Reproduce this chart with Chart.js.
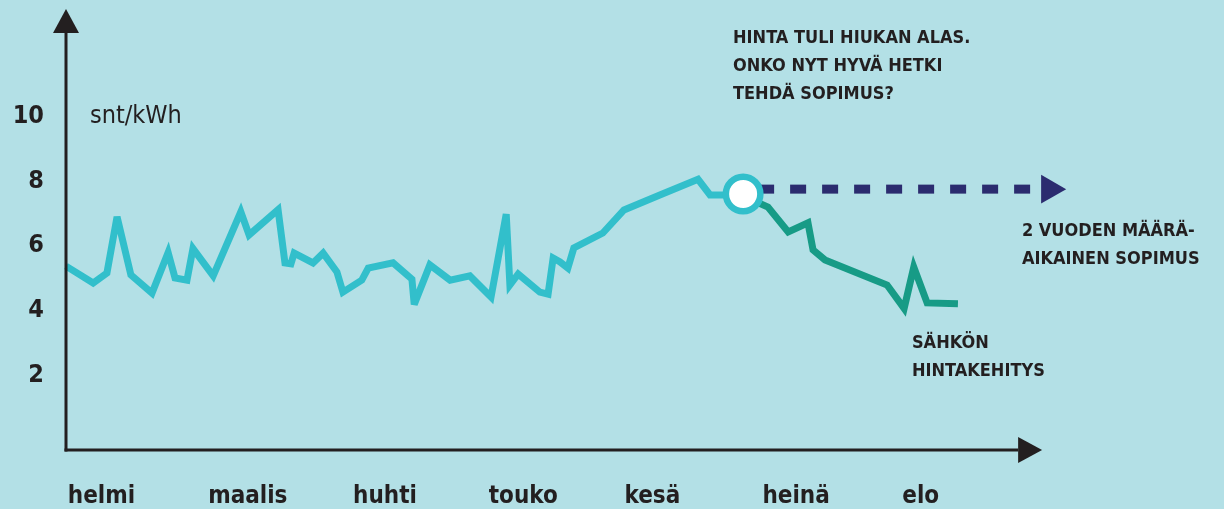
<!DOCTYPE html>
<html lang="fi">
<head>
<meta charset="utf-8">
<title>Sähkön hintakehitys</title>
<script src="https://cdn.jsdelivr.net/npm/chart.js@4.4.1/dist/chart.umd.min.js"></script>
<style>
  html, body { margin: 0; padding: 0; background: #b3e0e6; }
  canvas { display: block; }
</style>
</head>
<body>
<canvas id="priceChart" width="1224" height="509"></canvas>
<script>
// kuukaudet (päivää helmikuun alusta)
const monthLabels = ['helmi', 'maalis', 'huhti', 'touko', 'kesä', 'heinä', 'elo'];
const monthStarts = [0.4, 30.9, 62.4, 91.9, 121.4, 151.4, 181.8];
const yTicks = [2, 4, 6, 8, 10];

// toteutunut hinta ennen päätöstä (snt/kWh)
const priceDays = [0, 5.9, 8.9, 11.1, 14.1, 18.7, 22.2, 23.7, 26.3, 27.6, 32.0, 38.0, 39.8, 46.1, 47.6, 48.9,
  49.6, 53.7, 55.9, 58.9, 60.2, 64.3, 65.7, 71.1, 75.2, 75.7, 79.1, 83.5, 87.8, 92.4, 95.7, 96.5, 98.3,
  103.0, 104.8, 105.9, 107.4, 109.1, 110.4, 116.7, 121.3, 129.1, 137.4, 140.0, 142.8, 147.2];
const priceValues = [5.38, 4.86, 5.17, 6.9, 5.11, 4.55, 5.8, 5.02, 4.95, 5.92, 5.08, 7.05, 6.34, 7.12, 5.48, 5.45,
  5.78, 5.48, 5.78, 5.20, 4.58, 4.95, 5.32, 5.48, 4.98, 4.2, 5.42, 4.95, 5.08, 4.43, 6.98, 4.80, 5.14,
  4.58, 4.52, 5.63, 5.51, 5.32, 5.94, 6.40, 7.11, 7.57, 8.05, 7.57, 7.57, 7.6];

// hinta päätöksen jälkeen
const laterDays = [147.2, 150.2, 152.6, 157.0, 161.3, 162.4, 165.0, 178.5, 182.2, 184.3, 187.2, 193.9];
const laterValues = [7.6, 7.35, 7.2, 6.43, 6.71, 5.88, 5.57, 4.80, 4.08, 5.35, 4.25, 4.22];

// määräaikainen sopimus
const contractDays = [147.2, 213.8];
const contractValues = [7.75, 7.75];

const FONT = "'Liberation Sans Narrow', 'DejaVu Sans Condensed', 'Roboto Condensed', sans-serif";
const INK = '#231f20';
const TEAL = '#32bfcb';
const GREEN = '#179b86';
const NAVY = '#2b2c6f';

// akselinuolten kärjet
const yArrowTop = 13.29;
const xArrowEnd = 212.2;

const notes = [
  { x: 145.0, y: 12.40, lines: ['HINTA TULI HIUKAN ALAS.', 'ONKO NYT HYVÄ HETKI', 'TEHDÄ SOPIMUS?'] },
  { x: 207.8, y: 6.45, lines: ['2 VUODEN MÄÄRÄ-', 'AIKAINEN SOPIMUS'] },
  { x: 183.9, y: 3.02, lines: ['SÄHKÖN', 'HINTAKEHITYS'] }
];

function toPoints(xs, ys) {
  return xs.map((x, i) => ({ x: x, y: ys[i] }));
}

const decor = {
  id: 'decor',
  beforeDatasetsDraw(chart) {
    chart.ctx.miterLimit = 4;
  },
  afterDatasetsDraw(chart) {
    const ctx = chart.ctx;
    const ca = chart.chartArea;
    const xs = chart.scales.x;
    const ys = chart.scales.y;
    const x0 = ca.left;
    const y0 = ca.bottom;
    const yTop = ys.getPixelForValue(yArrowTop);
    const xEnd = xs.getPixelForValue(xArrowEnd);

    ctx.save();
    ctx.strokeStyle = INK;
    ctx.fillStyle = INK;
    ctx.lineWidth = 3;
    // pystyakseli
    ctx.beginPath();
    ctx.moveTo(x0, y0 + 1.5);
    ctx.lineTo(x0, yTop + 24);
    ctx.stroke();
    ctx.beginPath();
    ctx.moveTo(x0, yTop);
    ctx.lineTo(x0 - 13, yTop + 24);
    ctx.lineTo(x0 + 13, yTop + 24);
    ctx.closePath();
    ctx.fill();
    // vaaka-akseli
    ctx.beginPath();
    ctx.moveTo(x0 - 1.5, y0);
    ctx.lineTo(xEnd - 24, y0);
    ctx.stroke();
    ctx.beginPath();
    ctx.moveTo(xEnd, y0);
    ctx.lineTo(xEnd - 24, y0 - 13);
    ctx.lineTo(xEnd - 24, y0 + 13);
    ctx.closePath();
    ctx.fill();

    // yksikkö
    ctx.textAlign = 'left';
    ctx.textBaseline = 'middle';
    ctx.font = '25px ' + FONT;
    ctx.fillText('snt/kWh', xs.getPixelForValue(5.2), ys.getPixelForValue(10));

    // selitteet
    ctx.font = 'bold 18px ' + FONT;
    notes.forEach(n => {
      const px = xs.getPixelForValue(n.x);
      const py = ys.getPixelForValue(n.y);
      n.lines.forEach((t, i) => ctx.fillText(t, px, py + i * 28));
    });
    ctx.restore();
  }
};

new Chart(document.getElementById('priceChart'), {
  type: 'line',
  data: {
    datasets: [
      {
        label: 'päätös',
        data: toPoints([priceDays[priceDays.length - 1]], [priceValues[priceValues.length - 1]]),
        showLine: false,
        pointRadius: 17.25,
        pointBorderWidth: 6.5,
        pointBackgroundColor: '#ffffff',
        pointBorderColor: TEAL,
        order: 0,
        clip: false
      },
      {
        label: 'sopimus',
        data: toPoints(contractDays, contractValues),
        borderColor: NAVY,
        borderWidth: 9,
        borderDash: [16, 16],
        borderDashOffset: 17,
        borderCapStyle: 'butt',
        pointRadius: [0, 16.7],
        pointStyle: 'triangle',
        rotation: 90,
        pointBackgroundColor: NAVY,
        pointBorderWidth: 0,
        order: 1,
        clip: false
      },
      {
        label: 'hintakehitys',
        data: toPoints(laterDays, laterValues),
        borderColor: GREEN,
        borderWidth: 7,
        borderJoinStyle: 'miter',
        pointRadius: 0,
        tension: 0,
        order: 2,
        clip: false
      },
      {
        label: 'hinta',
        data: toPoints(priceDays, priceValues),
        borderColor: TEAL,
        borderWidth: 7,
        borderJoinStyle: 'miter',
        pointRadius: 0,
        tension: 0,
        order: 3,
        clip: false
      }
    ]
  },
  options: {
    responsive: false,
    animation: false,
    events: [],
    layout: { padding: { top: 0, right: 123, left: 0, bottom: 0 } },
    plugins: {
      legend: { display: false },
      tooltip: { enabled: false }
    },
    scales: {
      x: {
        type: 'linear',
        min: 0,
        max: 225,
        grid: { display: false },
        border: { display: false },
        afterBuildTicks: s => { s.ticks = monthStarts.map(v => ({ value: v })); },
        afterFit: s => { s.height = 59; },
        ticks: {
          align: 'start',
          autoSkip: false,
          maxRotation: 0,
          padding: 24,
          color: INK,
          font: { family: FONT, size: 24, weight: 'bold' },
          callback: (v, i) => monthLabels[i]
        }
      },
      y: {
        min: -0.277,
        max: 12.677,
        grid: { display: false },
        border: { display: false },
        afterBuildTicks: s => { s.ticks = yTicks.map(v => ({ value: v })); },
        afterFit: s => { s.width = 66; },
        ticks: {
          padding: 14,
          color: INK,
          font: { family: FONT, size: 25, weight: 'bold' },
          callback: v => v
        }
      }
    }
  },
  plugins: [decor]
});
</script>
</body>
</html>
